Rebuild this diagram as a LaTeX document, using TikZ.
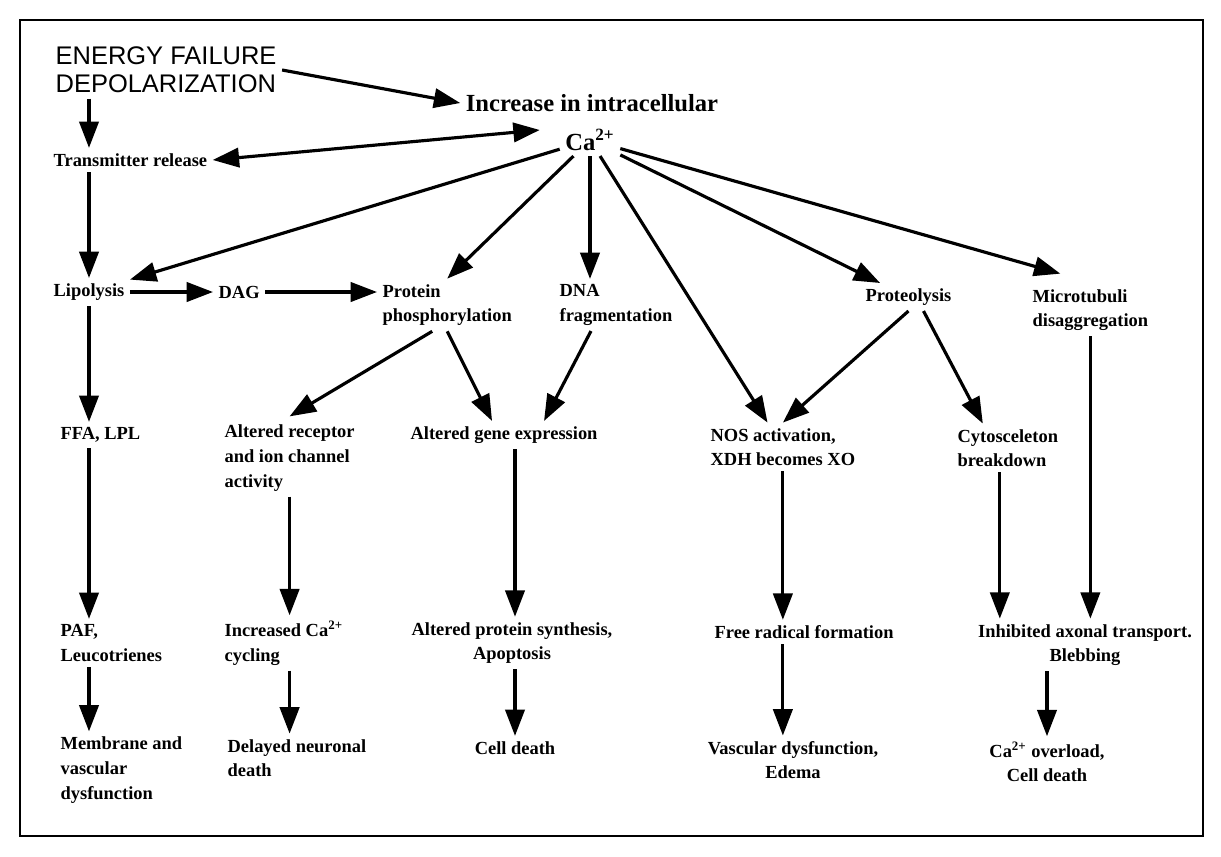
\documentclass[tikz,border=0pt]{standalone}
\usepackage{fontspec}
\setmainfont{Liberation Serif}
\newfontfamily\headfont{Liberation Sans}
\usetikzlibrary{arrows.meta,calc,positioning}

\begin{document}
\begin{tikzpicture}[x=0.02cm, y=-0.02cm,
  lbl/.style={font=\bfseries\fontsize{10.5}{14}\selectfont, inner sep=3pt, align=left},
  arr/.style={-{Triangle[length=15pt,width=11pt]}, line width=1.8pt},
  arrs/.style={{Triangle[length=15pt,width=11pt]}-{Triangle[length=15pt,width=11pt]}, line width=1.8pt}]
  \useasboundingbox (0,0) rectangle (1221,856);
  \draw[line width=1.2pt] (20,20) rectangle (1203,836);

  % top: trigger and calcium
  \node[lbl, anchor=west, font=\headfont\fontsize{14.5}{16}\selectfont] (energy) at (50,70) {ENERGY FAILURE\\DEPOLARIZATION};
  \node[lbl, font=\bfseries\fontsize{14}{15}\selectfont] (incr) at (592,103) {Increase in intracellular};
  \node[lbl, font=\bfseries\fontsize{14}{15}\selectfont] (ca) at (590,140) {Ca\textsuperscript{2+}};
  \node[lbl, anchor=west] (trans) at (48,160) {Transmitter release};

  % second row
  \node[lbl, anchor=west] (lipo) at (48,292) {Lipolysis};
  \node[lbl, anchor=west] (dag) at (213,292) {DAG};
  \node[lbl, anchor=west] (prot) at (377,305) {Protein\\phosphorylation};
  \node[lbl, anchor=west] (dna) at (554,305) {DNA\\fragmentation};
  \node[lbl, anchor=west] (pteo) at (860,297) {Proteolysis};
  \node[lbl, anchor=west] (micro) at (1027,310) {Microtubuli\\disaggregation};

  % third row
  \node[lbl, anchor=west] (ffa) at (55,435) {FFA, LPL};
  \node[lbl, anchor=west] (rec) at (219,458) {Altered receptor\\and ion channel\\activity};
  \node[lbl, anchor=west] (gene) at (405,435) {Altered gene expression};
  \node[lbl, anchor=west] (nos) at (705,447) {NOS activation,\\XDH becomes XO};
  \node[lbl, anchor=west] (cyto) at (952,448) {Cytosceleton\\breakdown};

  % fourth row
  \node[lbl, anchor=west] (paf) at (55,643) {PAF,\\Leucotrienes};
  \node[lbl, anchor=west] (incca) at (219,643) {Increased Ca\textsuperscript{2+}\\cycling};
  \node[lbl, align=center] (synth) at (512,643) {Altered protein synthesis,\\Apoptosis};
  \node[lbl, anchor=west] (free) at (709,632) {Free radical formation};
  \node[lbl, align=center] (inhib) at (1085,645) {Inhibited axonal transport.\\Blebbing};

  % outcomes
  \node[lbl, anchor=west] (mem) at (55,770) {Membrane and\\vascular\\dysfunction};
  \node[lbl, anchor=west] (delay) at (222,758) {Delayed neuronal\\death};
  \node[lbl] (death) at (515,748) {Cell death};
  \node[lbl, align=center] (vasc) at (793,760) {Vascular dysfunction,\\Edema};
  \node[lbl, align=center] (over) at (1047,762) {Ca\textsuperscript{2+} overload,\\Cell death};

  % arrows from the trigger
  \draw[arr] (energy.east) -- (incr.west);
  \draw[arr] (energy.south -| lipo) -- (trans.north -| lipo);
  \draw[arrs] (trans.east) -- ($(ca.west)+(-20,-10)$);
  \draw[arr] (trans.south -| lipo) -- (lipo.north);

  % fan out of calcium
  \draw[arr] (ca) -- (lipo);
  \draw[arr] (ca) -- (prot.north);
  \draw[arr] (ca.south) -- (ca.south |- dna.north);
  \draw[arr] (ca) -- (nos);
  \draw[arr] (ca) -- (pteo);
  \draw[arr] (ca) -- ($(micro.north)+(-30,-10)$);

  % lipid branch
  \draw[arr] (lipo.east) -- (dag.west);
  \draw[arr] (dag.east) -- (dag.east -| prot.west);
  \draw[arr] (lipo.south) -- (lipo.south |- ffa.north);
  \draw[arr] (ffa.south -| lipo) -- (paf.north -| lipo);
  \draw[arr] (paf.south -| lipo) -- (mem.north -| lipo);

  % phosphorylation branch
  \draw[arr] ($(prot.south)+(-15,0)$) -- ($(rec.north)+(0,-3)$);
  \draw[arr] (prot.south) -- ($(gene.north)+(-12,0)$);
  \draw[arr] ($(dna.south)+(-25,0)$) -- ($(gene.north)+(40,0)$);
  \draw[arr] (rec.south) -- (rec.south |- incca.north);
  \draw[arr] (incca.south -| rec) -- (delay.north -| rec);
  \draw[arr] (death.north |- gene.south) -- (death.north |- synth.north);
  \draw[arr] (death.north |- synth.south) -- (death.north);

  % proteolysis and microtubuli
  \draw[arr] (pteo.south) -- (nos.north);
  \draw[arr] ($(pteo.south)+(15,0)$) -- ($(cyto.north)+(-25,0)$);
  \draw[arr] (nos.south) -- (nos.south |- free.north);
  \draw[arr] (free.south -| nos) -- (vasc.north -| nos);
  \draw[arr] ($(cyto.south)+(-8,0)$) -- ($(cyto.south |- inhib.north)+(-8,0)$);
  \draw[arr] (micro.south) -- (micro.south |- inhib.north);
  \draw[arr] (over.north |- inhib.south) -- (over.north);
\end{tikzpicture}
\end{document}
